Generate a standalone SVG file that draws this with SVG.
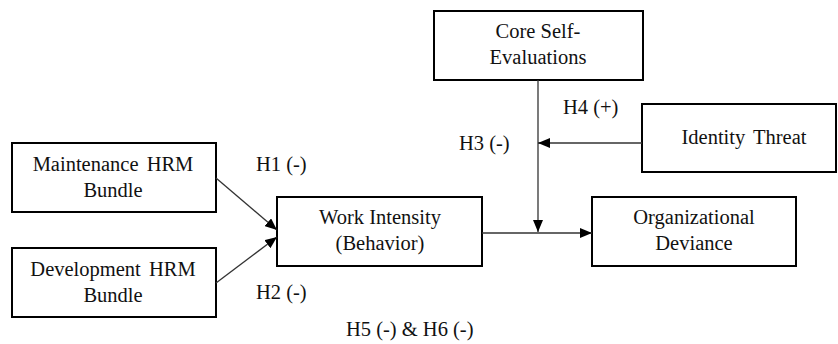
<svg xmlns="http://www.w3.org/2000/svg" width="838" height="344" viewBox="0 0 838 344">
<style>
.box{fill:#fff;stroke:#000;stroke-width:2}
.t{font-family:"Liberation Serif","Times New Roman",serif;font-size:20.5px;fill:#111;text-anchor:middle}
.l{font-family:"Liberation Serif","Times New Roman",serif;font-size:20.5px;fill:#111}
.c{stroke:#333;stroke-width:1.3;fill:none}
</style>
<defs>
<marker id="ah" markerWidth="12" markerHeight="10" refX="12" refY="5" orient="auto" markerUnits="userSpaceOnUse">
<path d="M0,0 L12,5 L0,10 Z" fill="#000"/>
</marker>
</defs>
<g id="n-maint"><rect class="box" x="12" y="143" width="204" height="69"/><text class="t" x="113" y="171" word-spacing="3">Maintenance HRM</text><text class="t" x="113" y="197">Bundle</text></g>
<g id="n-dev"><rect class="box" x="12" y="248" width="204" height="69"/><text class="t" x="113" y="276" word-spacing="3">Development HRM</text><text class="t" x="113" y="302">Bundle</text></g>
<g id="n-work"><rect class="box" x="277" y="197" width="205" height="69"/><text class="t" x="380" y="224">Work Intensity</text><text class="t" x="380" y="250">(Behavior)</text></g>
<g id="n-core"><rect class="box" x="434" y="11" width="209" height="69"/><text class="t" x="538" y="38">Core Self-</text><text class="t" x="538" y="64">Evaluations</text></g>
<g id="n-id"><rect class="box" x="642" y="104" width="194" height="68"/><text class="t" x="744" y="144" word-spacing="3">Identity Threat</text></g>
<g id="n-org"><rect class="box" x="592" y="197" width="204" height="69"/><text class="t" x="694" y="224">Organizational</text><text class="t" x="694" y="250">Deviance</text></g>
<g id="connectors">
<line class="c" x1="216" y1="178" x2="277" y2="230" marker-end="url(#ah)"/>
<line class="c" x1="216" y1="283" x2="277" y2="237" marker-end="url(#ah)"/>
<line class="c" x1="482" y1="233" x2="592" y2="233" marker-end="url(#ah)"/>
<line class="c" x1="538" y1="80" x2="538" y2="232" marker-end="url(#ah)"/>
<line class="c" x1="642" y1="143" x2="538" y2="143" marker-end="url(#ah)"/>
</g>
<g id="labels">
<text class="l" x="256" y="171">H1 (-)</text>
<text class="l" x="256" y="299">H2 (-)</text>
<text class="l" x="459" y="150">H3 (-)</text>
<text class="l" x="563" y="114">H4 (+)</text>
<text class="l" x="346" y="336">H5 (-) &amp; H6 (-)</text>
</g>
</svg>
